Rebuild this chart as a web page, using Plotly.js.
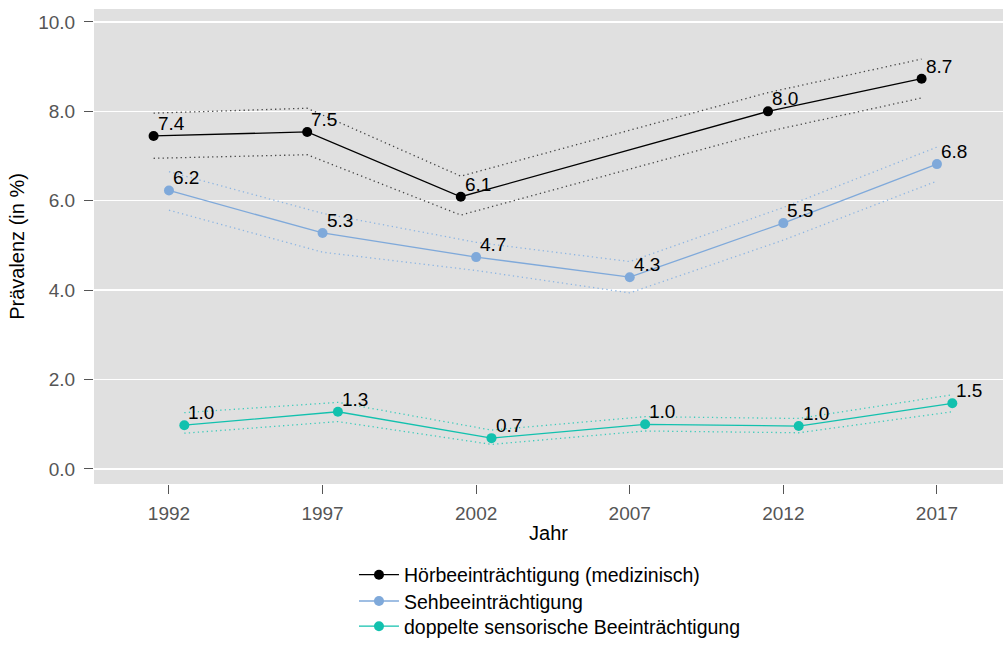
<!DOCTYPE html>
<html>
<head>
<meta charset="utf-8">
<script src="https://cdn.plot.ly/plotly-3.0.1.min.js"></script>
<style>html,body{margin:0;padding:0;background:#fff;}#chart{width:1003px;height:646px;}</style>
</head>
<body>
<div id="chart"></div>
<script>
// ---- data ----
const years = [1992, 1997, 2002, 2007, 2012, 2017];
const seriesNames = ["Hörbeeinträchtigung (medizinisch)", "Sehbeeinträchtigung", "doppelte sensorische Beeinträchtigung"];

const hoerValue = [7.45, 7.54, 6.09, null, 8.0, 8.73];
const hoerLabel = ["7.4", "7.5", "6.1", null, "8.0", "8.7"];
const hoerUpper = [7.96, 8.07, 6.55, null, 8.42, 9.17];
const hoerLower = [6.95, 7.03, 5.68, null, 7.55, 8.3];

const sehValue = [6.23, 5.28, 4.74, 4.29, 5.5, 6.82];
const sehLabel = ["6.2", "5.3", "4.7", "4.3", "5.5", "6.8"];
const sehUpper = [6.65, 5.72, 5.07, 4.64, 5.85, 7.2];
const sehLower = [5.79, 4.85, 4.44, 3.94, 5.12, 6.44];

const doppValue = [0.98, 1.28, 0.69, 1.0, 0.96, 1.47];
const doppLabel = ["1.0", "1.3", "0.7", "1.0", "1.0", "1.5"];
const doppUpper = [1.26, 1.49, 0.87, 1.17, 1.13, 1.66];
const doppLower = [0.8, 1.06, 0.55, 0.85, 0.81, 1.28];

const yTicks = [0, 2, 4, 6, 8, 10];

// ---- styles ----
const FONT = "Liberation Sans, Arial, sans-serif";
const colors = ["#000000", "#7FA9DA", "#12C1AE"];
const ciColors = ["#444444", "#8DB5E2", "#3FCBBB"];
const dodge = [-0.5, 0, 0.5];
const legendIds = ["legend", "legend2", "legend3"];
const legendY = [-0.1916, -0.2470, -0.3010];

const sets = [
  {v: hoerValue, l: hoerLabel, u: hoerUpper, lo: hoerLower},
  {v: sehValue, l: sehLabel, u: sehUpper, lo: sehLower},
  {v: doppValue, l: doppLabel, u: doppUpper, lo: doppLower}
];

const traces = [];
const annotations = [];
sets.forEach((s, i) => {
  const xs = years.map(y => y + dodge[i]);
  ["u", "lo"].forEach(k => {
    traces.push({
      x: xs, y: s[k], type: "scatter", mode: "lines",
      line: {color: ciColors[i], dash: "1.3px,3.2px", width: 1.3},
      connectgaps: true, showlegend: false, hoverinfo: "skip"
    });
  });
  traces.push({
    x: xs, y: s.v, type: "scatter", mode: "lines+markers", name: seriesNames[i],
    line: {color: colors[i], width: 1.3},
    marker: {color: colors[i], size: 10},
    connectgaps: true, legend: legendIds[i]
  });
  s.v.forEach((val, j) => {
    if (val === null) return;
    annotations.push({
      x: xs[j], y: val, xref: "x", yref: "y", text: s.l[j], showarrow: false,
      xanchor: "left", yanchor: "bottom", xshift: 2, yshift: 0,
      font: {family: FONT, size: 19, color: "#000"}
    });
  });
});

const legendBase = {
  xref: "paper", yref: "paper",
  x: 0.2860, xanchor: "left", yanchor: "middle",
  orientation: "v", bgcolor: "rgba(0,0,0,0)",
  font: {family: FONT, size: 19.5, color: "#000"},
  itemwidth: 40
};

const layout = {
  width: 1003, height: 646,
  margin: {l: 94, r: 0, t: 9, b: 162},
  paper_bgcolor: "#ffffff",
  plot_bgcolor: "#E0E0E0",
  font: {family: FONT, size: 19, color: "#000"},
  xaxis: {
    range: [1989.56, 2019.15],
    tickvals: years, ticktext: years.map(String), tickangle: 0,
    showgrid: false, zeroline: false, automargin: false,
    ticks: "outside", ticklen: 9, tickcolor: "#555", tickwidth: 1,
    ticklabelstandoff: 3,
    tickfont: {family: FONT, size: 19, color: "#555555"},
    title: {text: "Jahr", font: {family: FONT, size: 20, color: "#000"}, standoff: 3}
  },
  yaxis: {
    range: [-0.336, 10.29],
    tickvals: yTicks, ticktext: yTicks.map(v => v.toFixed(1)),
    showgrid: true, gridcolor: "#ffffff", gridwidth: 1.4, zeroline: false, automargin: false,
    ticks: "outside", ticklen: 9, tickcolor: "#555", tickwidth: 1,
    ticklabelstandoff: 5,
    tickfont: {family: FONT, size: 19, color: "#555555"},
    title: {text: "Prävalenz (in %)", font: {family: FONT, size: 20, color: "#000"}, standoff: 8}
  },
  showlegend: true,
  legend: Object.assign({}, legendBase, {y: legendY[0]}),
  legend2: Object.assign({}, legendBase, {y: legendY[1]}),
  legend3: Object.assign({}, legendBase, {y: legendY[2]}),
  annotations: annotations
};

Plotly.newPlot("chart", traces, layout, {displayModeBar: false, staticPlot: true});
</script>
</body>
</html>
